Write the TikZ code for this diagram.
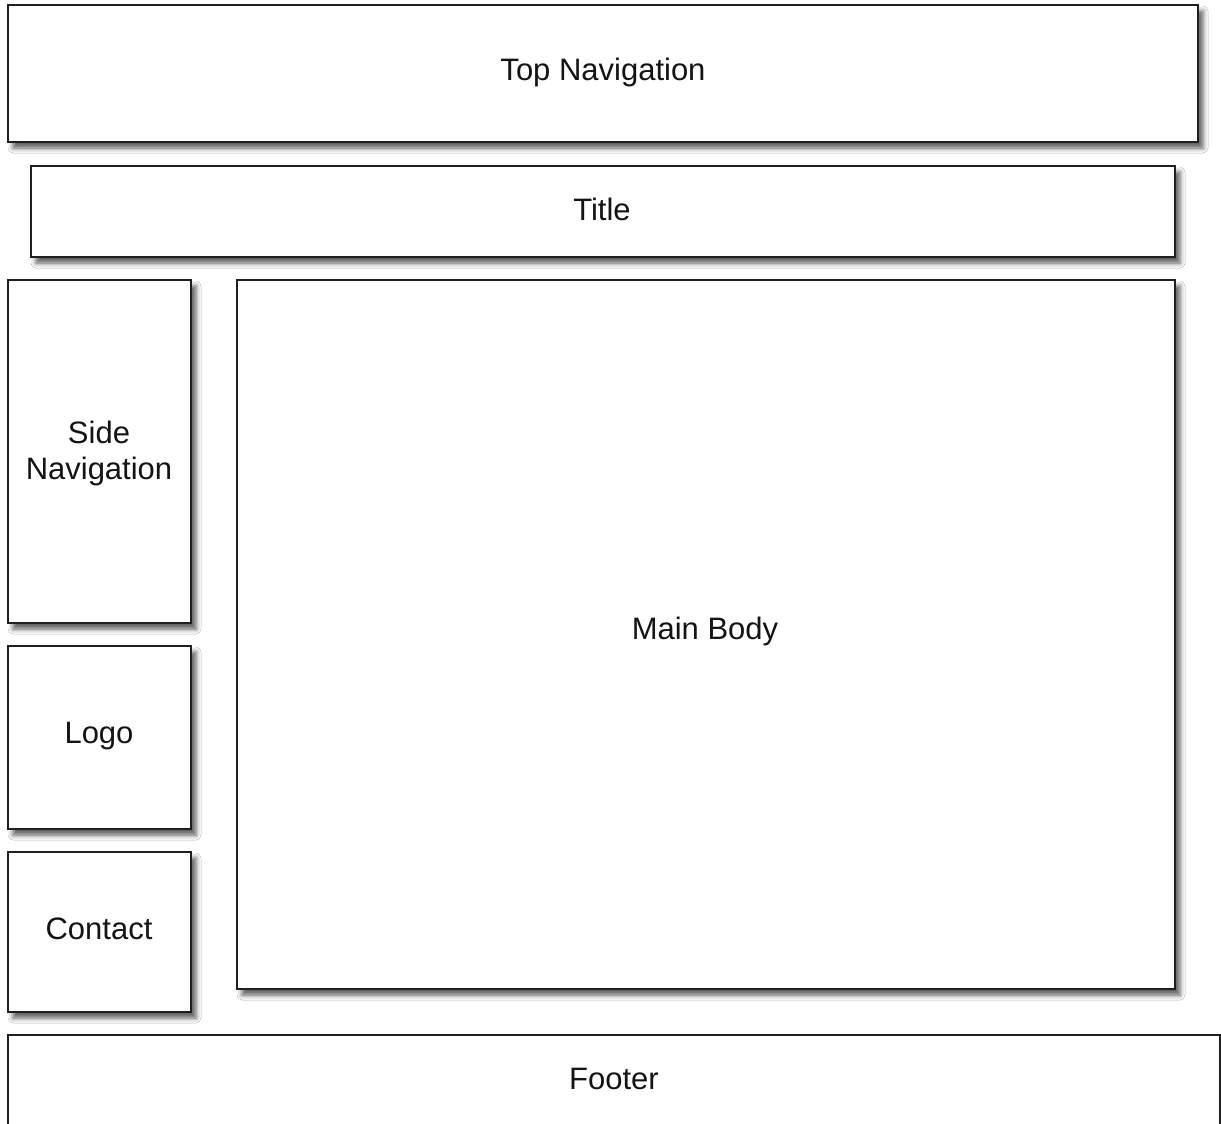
\documentclass[tikz,border=0pt]{standalone}
\usepackage{fontspec}
\setmainfont{Liberation Sans}
\usetikzlibrary{shadows.blur}
\begin{document}
\begin{tikzpicture}[x=1pt,y=-1pt,
  region/.style={draw=black!88, line width=2.7pt, fill=white,
    blur shadow={shadow xshift=5pt, shadow yshift=-6pt, shadow blur radius=5pt, shadow opacity=65}},
  label/.style={font=\fontsize{31}{36}\selectfont, align=center, text=black!92}]
  \useasboundingbox (0,0) rectangle (1221,1124);
  \clip (0,0) rectangle (1221,1124);
  \fill[white] (0,0) rectangle (1221,1124);
  % page regions
  \path[region] (8,5) rectangle (1198,142);
  \node[label] (topnav) at (603,72) {Top Navigation};
  \path[region] (31,166) rectangle (1175,257);
  \node[label] (title) at (602,209) {Title};
  \path[region] (8,280) rectangle (191,623);
  \node[label] (sidenav) at (99,453) {Side\\Navigation};
  \path[region] (8,646) rectangle (191,829);
  \node[label] (logo) at (99,736) {Logo};
  \path[region] (8,852) rectangle (191,1012);
  \node[label] (contact) at (99,929) {Contact};
  \path[region] (237,280) rectangle (1175,989);
  \node[label] (mainbody) at (705,631) {Main Body};
  \path[region] (8,1035) rectangle (1220,1200);
  \node[label] (footer) at (614,1079) {Footer};
\end{tikzpicture}
\end{document}
